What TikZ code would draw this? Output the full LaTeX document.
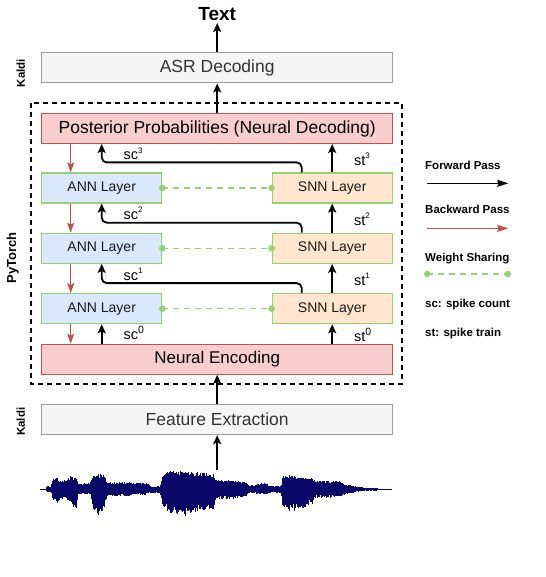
\documentclass[tikz,border=0pt]{standalone}
\usepackage{fontspec}
\setmainfont{Liberation Sans}
\usetikzlibrary{arrows.meta}

\definecolor{redline}{HTML}{B85450}
\definecolor{redfill}{HTML}{F8CECC}
\definecolor{greenline}{HTML}{97D077}
\definecolor{bluefill}{HTML}{DAE8FC}
\definecolor{orangefill}{HTML}{FFE6CC}
\definecolor{grayline}{HTML}{A0A0A0}
\definecolor{grayfill}{HTML}{F5F5F5}
\definecolor{wave}{RGB}{8,8,105}

\newcommand{\supsm}[1]{\raisebox{0.45em}{\fontsize{8}{8}\selectfont #1}}
\newcommand{\supbig}[1]{\raisebox{0.38em}{\fontsize{10.5}{10}\selectfont #1}}

\tikzset{
  graybox/.style={draw=grayline, fill=grayfill, text=black!80, line width=1pt,
    minimum width=351pt, minimum height=30pt, font=\fontsize{17.5}{20}\selectfont},
  redbox/.style={draw=redline, fill=redfill, line width=1pt,
    minimum width=351pt, minimum height=30pt, font=\fontsize{17.5}{20}\selectfont},
  annbox/.style={draw=greenline, fill=bluefill, line width=1.2pt, text=black!90,
    minimum width=120pt, minimum height=30pt, font=\fontsize{14}{16}\selectfont},
  snnbox/.style={annbox, fill=orangefill},
  fwd/.style={-{Stealth[length=9pt,width=8pt,inset=2pt]}, line width=1.8pt},
  bwd/.style={-{Stealth[length=10pt,width=7pt,inset=2pt]}, line width=1.3pt, draw=redline},
  share/.style={dash pattern=on 6pt off 5pt, line width=1.5pt, draw=greenline},
  spk/.style={anchor=base west, inner sep=0pt, font=\fontsize{14.5}{16}\selectfont},
  side/.style={rotate=90, font=\bfseries\fontsize{11.5}{13}\selectfont},
  legend/.style={anchor=west, inner sep=0pt, font=\bfseries\fontsize{11.5}{13}\selectfont}
}

\begin{document}
\begin{tikzpicture}[x=1pt,y=-1pt]
  \useasboundingbox (0,0) rectangle (545,577);

  % boxes
  \node[anchor=south, inner sep=2pt, font=\bfseries\fontsize{19}{21}\selectfont] (txt) at (217.2,23) {Text};
  \node[graybox] (asr) at (217.2,68) {ASR Decoding};
  \node[redbox] (post) at (217.2,128.5) {Posterior Probabilities (Neural Decoding)};
  \node[annbox] (ann3) at (101.7,188) {ANN Layer};
  \node[snnbox] (snn3) at (332.2,188) {SNN Layer};
  \node[annbox] (ann2) at (101.7,248.3) {ANN Layer};
  \node[snnbox] (snn2) at (332.2,248.3) {SNN Layer};
  \node[annbox] (ann1) at (101.7,308.7) {ANN Layer};
  \node[snnbox] (snn1) at (332.2,308.7) {SNN Layer};
  \node[redbox, font=\fontsize{17}{20}\selectfont] (enc) at (217.2,359.3) {Neural Encoding};
  \node[graybox] (feat) at (217.2,419.7) {Feature Extraction};

  \draw[dash pattern=on 5pt off 4pt, line width=1.5pt] (31,103) rectangle (402,384);

  \node[side] (kaldi1) at (20.7,73) {Kaldi};
  \node[side, font=\bfseries\fontsize{13}{15}\selectfont] (torch) at (12.7,258) {PyTorch};
  \node[side] (kaldi2) at (20.7,421.7) {Kaldi};

  % forward pass
  \draw[fwd] (asr.north) -- (txt.south);
  \draw[fwd] (post.north) -- (asr.south);
  \draw[fwd] (feat.north) -- (enc.south);
  \draw[fwd] (snn3.north) -- (snn3.north |- post.south);
  \draw[fwd] (snn2.north) -- (snn3.south);
  \draw[fwd] (snn1.north) -- (snn2.south);
  \draw[fwd] (snn1.south |- enc.north) -- (snn1.south);
  \draw[fwd] (ann1.south |- enc.north) -- (ann1.south);
  \foreach \a/\b/\c in {snn3/post/ann3, snn2/ann3/ann2, snn1/ann2/ann1}
    \draw[fwd, rounded corners=5pt] ([xshift=-30.5pt]\a.north) -- ++(0,-10) -| (\c.north |- \b.south);

  % backward pass
  \draw[bwd] ([xshift=-31pt]ann3.north |- post.south) -- ([xshift=-31pt]ann3.north);
  \draw[bwd] ([xshift=-31pt]ann3.south) -- ([xshift=-31pt]ann2.north);
  \draw[bwd] ([xshift=-31pt]ann2.south) -- ([xshift=-31pt]ann1.north);
  \draw[bwd] ([xshift=-31pt]ann1.south) -- ([xshift=-31pt]ann1.south |- enc.north);

  % weight sharing
  \foreach \i in {1,2,3} {
    \draw[share] (ann\i.east) -- (snn\i.west);
    \fill[greenline] (ann\i.east) circle (3.3pt) (snn\i.west) circle (3.3pt);
  }

  % spike labels
  \node[spk] (sc3) at (123.3,160) {sc\supsm{3}};
  \node[spk] (sc2) at (123.3,219.5) {sc\supsm{2}};
  \node[spk] (sc1) at (123.3,280) {sc\supsm{1}};
  \node[spk] (sc0) at (123.3,339.5) {sc\supbig{0}};
  \node[spk] (st3) at (354,165.5) {st\supsm{3}};
  \node[spk] (st2) at (354,225) {st\supsm{2}};
  \node[spk] (st1) at (354,285) {st\supsm{1}};
  \node[spk] (st0) at (354,341) {st\supbig{0}};

  % waveform
  \pgfmathsetseed{11}
  \draw[wave, line width=0.6pt] (40.7,489.3) -- (391.7,489.3);
  \foreach \x/\u/\d [remember=\x as \px (initially 40.7), remember=\u as \pu (initially 0.4),
      remember=\d as \pd (initially 0.4)] in {
      45/0.4/0.4, 47/3/3, 51/3/4, 53/11/12, 57/13/14, 60/9/10, 66/9/10, 70/13/12,
      72/13/18, 76/12/20, 78/6/5, 90/6/5, 93/15/20, 98/16/27, 104/14/20, 107/7/7,
      120/7/7, 130/7/7, 132/6/5, 140/7/6, 148/6/5, 151/3/4, 160/3/4, 163/15/18,
      170/19/24, 185/18/27, 200/17/22, 213/16/20, 217/9/10, 235/9/10, 246/7/7,
      249/4/4, 255/4/4, 257/6/5, 267/6/5, 269/3.5/4, 281/3.5/4, 283/14/20,
      292/14/23, 300/12/20, 312/11/15, 315/9/9, 340/8/8, 345/5/5, 362/2/2,
      364/1.5/1.5, 376/1.5/1.5, 378/0.4/0.4, 391.7/0.4/0.4} {
    \pgfmathsetmacro\len{\x-\px}
    \foreach \t in {0,0.5,...,\len} {
      \pgfmathsetmacro\hu{(\pu+(\u-\pu)*\t/\len)*(0.7+0.3*rnd)}
      \pgfmathsetmacro\hd{(\pd+(\d-\pd)*\t/\len)*(0.62+0.38*rnd)}
      \draw[wave, line width=0.8pt] (\px+\t,489.3-\hu) -- (\px+\t,489.3+\hd);
    }
  }
  \coordinate (wav) at (217.2,470);
  \draw[fwd] (wav) -- (feat.south);

  % legend
  \node[legend] (lfwd) at (425,165) {Forward Pass};
  \coordinate (fa) at (426.7,183.3);
  \coordinate (fb) at (508.3,183.3);
  \draw[-{Stealth[length=11pt,width=7pt,inset=1pt]}, line width=1.2pt] (fa) -- (fb);
  \node[legend] (lbwd) at (425,209.3) {Backward Pass};
  \coordinate (ba) at (426.7,228.3);
  \coordinate (bb) at (508.3,228.3);
  \draw[-{Stealth[length=11pt,width=7pt,inset=1pt]}, line width=1.2pt, draw=redline] (ba) -- (bb);
  \node[legend] (lshare) at (425,259) {Weight Sharing};
  \coordinate (wa) at (427.3,274);
  \coordinate (wb) at (507.7,274);
  \draw[share] (wa) -- (wb);
  \fill[greenline] (wa) circle (3.3pt) (wb) circle (3.3pt);
  \node[legend] (lsc) at (425,305) {sc: spike count};
  \node[legend] (lst) at (425,334) {st: spike train};
\end{tikzpicture}
\end{document}
